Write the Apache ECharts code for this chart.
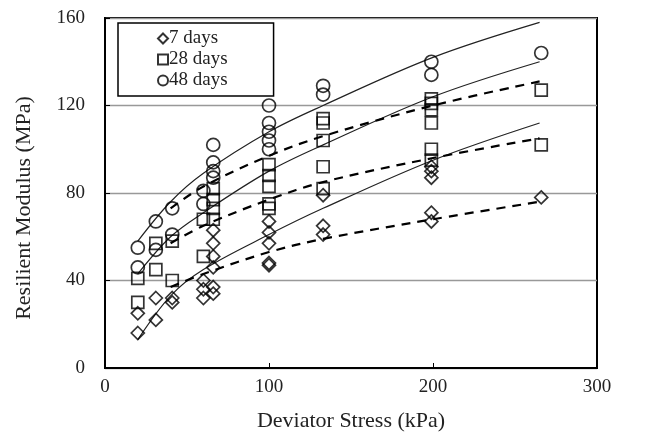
<!DOCTYPE html>
<html><head><meta charset="utf-8">
<script src="https://cdn.jsdelivr.net/npm/echarts@6/dist/echarts.min.js"></script>
<style>html,body{margin:0;padding:0;background:#fff}#c{width:648px;height:445px}</style>
</head><body><div id="c"></div>
<script>
// Scatter data: [deviator stress kPa, resilient modulus MPa]
const days7 = [[20,16],[20,25],[31,22],[31,32],[41,30],[41,32],[60,32],[60,36],[60,40],
  [66,34],[66,37],[66,46],[66,51],[66,57],[66,63],[100,47],[100,48],[100,57],[100,62],[100,67],
  [133,61],[133,65],[133,79],[199,67],[199,71],[199,87],[199,90],[199,92],[266,78]];
const days28 = [[20,30],[20,41],[31,45],[31,57],[41,40],[41,58],[60,51],[60,68],[66,68],[66,73],
  [66,77],[66,82],[100,73],[100,75],[100,83],[100,88],[100,93],[133,82],[133,92],[133,104],
  [133,112],[133,114],[199,95],[199,100],[199,112],[199,118],[199,121],[199,123],[266,102],[266,127]];
const days48 = [[20,46],[20,55],[31,54],[31,67],[41,61],[41,73],[60,75],[60,81],[66,87],[66,90],
  [66,94],[66,102],[100,100],[100,104],[100,108],[100,112],[100,120],[133,125],[133,129],
  [199,134],[199,140],[266,144]];
// Fitted curves, values at these stresses
const curveX = [20, 40, 60, 100, 133, 200, 265];
const solidA = [58, 76, 89, 108, 120, 142, 158];
const solidB = [43, 60, 71, 90, 102, 124, 140];
const solidC = [13, 33, 45, 61, 73, 95, 112];
const dashA = [null, 73, 83, 97, 106, 120, 131];
const dashB = [null, 57, 65, 77, 85, 96, 105];
const dashC = [null, 37, 43, 53, 59, 68, 76];
const xTicks = [0, 100, 200, 300];
const yTicks = [0, 40, 80, 120, 160];

const serif = 'Liberation Serif';
function pairs(ys) { return curveX.map((x, i) => [x, ys[i]]).filter(p => p[1] !== null); }
function curve(ys, dashed) {
  return { type: 'line', data: pairs(ys), smooth: 0.35, symbol: 'none', silent: true, z: 1,
    lineStyle: dashed ? { color: '#000', width: 2.2, type: [9, 7] } : { color: '#222', width: 1.2 } };
}
function pts(name, data, symbol, size) {
  return { type: 'scatter', name, data, symbol, symbolSize: size, z: 3,
    itemStyle: { color: 'transparent', borderColor: '#000', borderWidth: 1.7 } };
}
const chart = echarts.init(document.getElementById('c'), null, { renderer: 'canvas' });
chart.setOption({
  animation: false,
  backgroundColor: '#fff',
  grid: { left: 105, right: 51, top: 18, bottom: 77, show: true, borderColor: '#000', borderWidth: 2 },
  legend: {
    data: ['7 days', '28 days', '48 days'], orient: 'vertical', left: 118, top: 23,
    backgroundColor: '#fff', borderColor: '#000', borderWidth: 1.5,
    padding: [6, 46, 6, 39], itemGap: 2, itemWidth: 10, itemHeight: 10,
    textStyle: { fontFamily: serif, fontSize: 19, color: '#222', padding: [0, 0, 0, -4] }
  },
  xAxis: {
    type: 'value', min: 0, max: 300, interval: 100,
    axisLine: { lineStyle: { color: '#000', width: 2 } },
    axisTick: { inside: true, length: 5, lineStyle: { color: '#000' } },
    splitLine: { show: false },
    axisLabel: { fontFamily: serif, fontSize: 19, color: '#222', margin: 10, formatter: v => xTicks.includes(v) ? String(v) : '' },
    name: 'Deviator Stress (kPa)', nameLocation: 'middle', nameGap: 42,
    nameTextStyle: { fontFamily: serif, fontSize: 22, color: '#222' }
  },
  yAxis: {
    type: 'value', min: 0, max: 160, interval: 40,
    axisLine: { lineStyle: { color: '#000', width: 2 } },
    axisTick: { inside: true, length: 5, lineStyle: { color: '#000' } },
    splitLine: { lineStyle: { color: '#999', width: 1.3 } },
    axisLabel: { fontFamily: serif, fontSize: 19, color: '#222', margin: 20, formatter: v => yTicks.includes(v) ? String(v) : '' },
    name: 'Resilient Modulus (MPa)', nameLocation: 'middle', nameGap: 70,
    nameTextStyle: { fontFamily: serif, fontSize: 22, color: '#222', padding: [0, 30, 0, 0] }
  },
  series: [
    curve(solidA, false), curve(solidB, false), curve(solidC, false),
    curve(dashA, true), curve(dashB, true), curve(dashC, true),
    pts('7 days', days7, 'diamond', 13),
    pts('28 days', days28, 'rect', 12),
    pts('48 days', days48, 'circle', 13)
  ]
});
</script></body></html>
